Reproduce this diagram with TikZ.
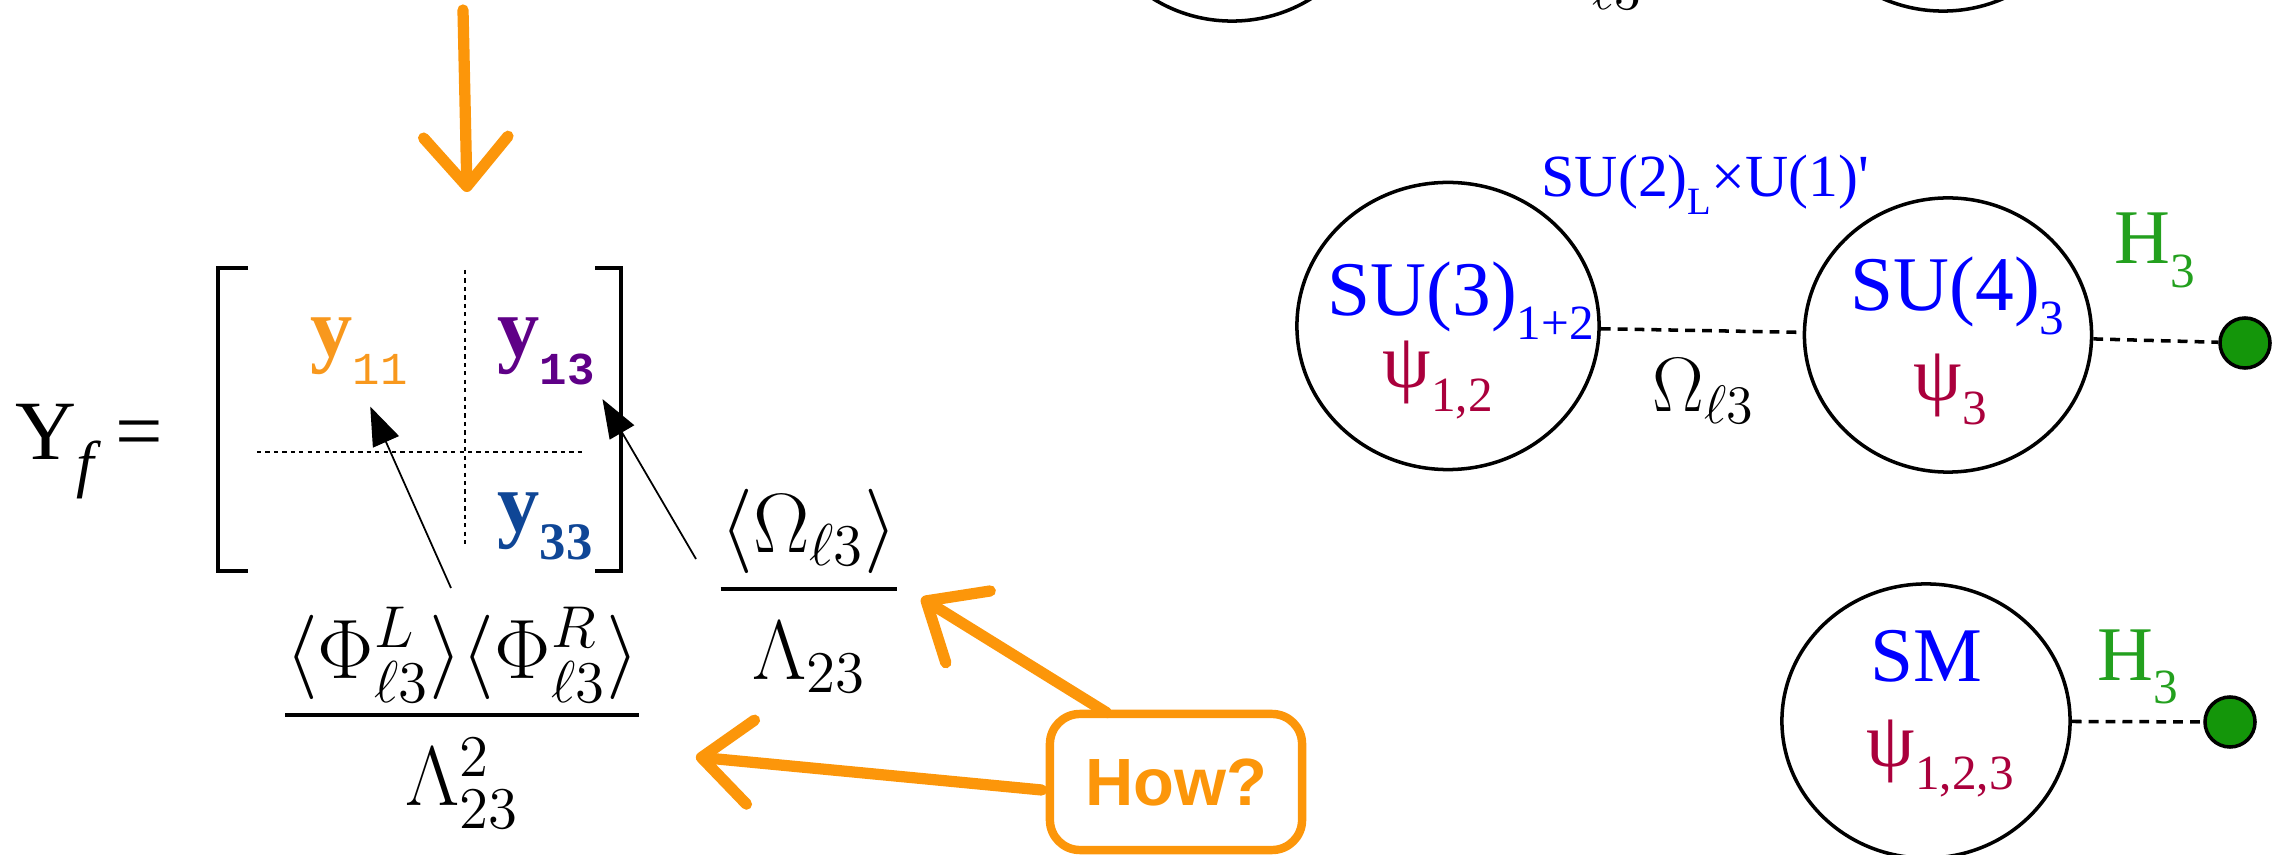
\RequirePackage{fix-cm}
\documentclass[tikz,border=0pt]{standalone}
\usepackage{amsmath}
\usepackage[no-math]{fontspec}
\setmainfont{Liberation Serif}
\setsansfont{Liberation Sans}
\setmonofont{Liberation Mono}
\usepackage{xcolor}
\usepackage{tikz}
\usetikzlibrary{shapes.geometric, arrows.meta, positioning, calc}
\definecolor{hand}{RGB}{252,150,10}
\definecolor{yorange}{RGB}{248,152,29}
\definecolor{ypurple}{RGB}{95,0,135}
\definecolor{yblue}{RGB}{15,70,150}
\definecolor{grpblue}{RGB}{0,0,255}
\definecolor{fieldred}{RGB}{170,0,60}
\definecolor{higgsgreen}{RGB}{35,160,30}
\definecolor{dotgreen}{RGB}{20,150,10}
\newcommand{\eqsize}{\fontsize{24}{28}\selectfont}
\newcommand{\grpsize}{\fontsize{22}{26}\selectfont}
\newcommand{\brksize}{\fontsize{17}{20}\selectfont}
\newcommand{\howsize}{\fontsize{19}{22}\selectfont}
\newcommand{\idx}[2][14]{\raisebox{-0.3em}{\fontsize{#1}{#1}\selectfont #2}}
\newcommand{\ysub}[2][15]{\raisebox{-0.33em}{\fontsize{#1}{#1}\selectfont #2}}
\tikzstyle{txt} = [inner sep=0pt, anchor=base west]
\tikzstyle{gaugegroup} = [ellipse, draw=black, line width=1pt, inner sep=0pt, minimum width=2.88cm, minimum height=2.74cm]
\tikzstyle{grplabel} = [txt, text=grpblue, font=\grpsize]
\tikzstyle{fieldlabel} = [txt, text=fieldred, font=\grpsize]
\tikzstyle{higgslabel} = [txt, text=higgsgreen, font=\grpsize]
\tikzstyle{higgsdot} = [circle, draw=black, line width=1pt, fill=dotgreen, minimum size=0.5cm, inner sep=0pt]
\tikzstyle{scalarline} = [dash pattern=on 2.8pt off 2pt, line width=1pt]
\tikzstyle{blockline} = [dash pattern=on 1.2pt off 1.2pt, line width=0.5pt]
\tikzstyle{bracket} = [line width=1.3pt]
\tikzstyle{yentry} = [txt, font=\eqsize]
\tikzstyle{fracnode} = [inner sep=0pt, anchor=base, font=\eqsize]
\tikzstyle{ptr} = [-{Triangle[length=11pt, width=8pt]}, line width=0.5pt]
\tikzstyle{brush} = [-{Straight Barb[length=14pt, width=24pt, round]}, draw=hand, line width=3.2pt, line cap=round, line join=round]
\tikzstyle{howbox} = [rectangle, rounded corners=0.3cm, draw=hand, line width=2.4pt, minimum width=2.52cm, minimum height=1.36cm, text=hand, font=\sffamily\bfseries\howsize]

\begin{document}
\begin{tikzpicture}[x=0.01cm, y=-0.01cm]
    \useasboundingbox (0,0) rectangle (2287,855);
    \clip (0,0) rectangle (2287,855);

    % Yukawa matrix
    \node[yentry] (yf) at (15,460) {Y\idx[18]{\textit{f}}\,=};
    \draw[bracket] (248,268) -- (218,268) -- (218,571) -- (248,571);
    \draw[bracket] (595,268) -- (621,268) -- (621,571) -- (595,571);
    \draw[blockline] (465,270) -- (465,547);
    \draw[blockline] (257,452) -- (585,452);
    \node[yentry, text=yorange] (y11) at (310,357) {\textbf{y}\ysub[13]{\ttfamily 11}};
    \node[yentry, text=ypurple] (y13) at (497,357) {\textbf{y}\ysub[13]{\ttfamily\bfseries 13}};
    \node[yentry, text=yblue] (y33) at (497,532) {\textbf{y}\ysub{\bfseries 33}};

    % Suppressions
    \node[fracnode] (phifrac) at (462,736) {$\dfrac{\langle\Phi^{L}_{\ell 3}\rangle\langle\Phi^{R}_{\ell 3}\rangle}{\rule{0pt}{0.93em}\Lambda^{2}_{23}}$};
    \node[fracnode] (omfrac) at (809,610) {$\dfrac{\langle\Omega_{\ell 3}\rangle}{\rule{0pt}{0.93em}\Lambda_{23}}$};
    \coordinate (phitail) at (451,588);
    \coordinate (omtail) at (696,559);
    \draw[ptr] (phitail) -- ([shift={(11,21)}]y11.south);
    \draw[ptr] (omtail) -- ([shift={(7,13)}]y13.south east);

    % Question
    \node[howbox] (how) at (1176,782) {How?};
    \coordinate (dstart) at (463,10);
    \coordinate (dend) at (467,192);
    \draw[brush] (dstart) -- (dend);
    \draw[brush] ([shift={(61,3)}]how.north west) -- ([shift={(19,7)}]omfrac.east);
    \draw[brush] ([shift={(-4,8)}]how.west) -- ([shift={(52,39)}]phifrac.east);

    % Row above (cut off)
    \node[gaugegroup] (topa) at (1232,-116) {};
    \node[gaugegroup] (topb) at (1943,-126) {};
    \node[txt, font=\grpsize] (omtop) at (1540,-2) {$\Omega_{\ell 3}$};

    % Two-site row
    \node[gaugegroup, minimum width=3.02cm, minimum height=2.87cm] (su3) at (1448,326) {};
    \node[gaugegroup, minimum width=2.87cm] (su4) at (1948,335) {};
    \node[higgsdot] (hdota) at (2245,343) {};
    \node[txt, text=grpblue, font=\brksize] (brk) at (1541,197) {SU(2)\idx[11]{L}×U(1)\textquotesingle};
    \node[grplabel] (su3lbl) at (1327,316) {SU(3)\idx{1+2}};
    \node[fieldlabel] (psia) at (1382,388) {ψ\idx{1,2}};
    \node[grplabel] (su4lbl) at (1850,311) {SU(4)\idx{3}};
    \node[fieldlabel] (psib) at (1913,401) {ψ\idx{3}};
    \node[txt, font=\grpsize] (omlbl) at (1652,412) {$\Omega_{\ell 3}$};
    \node[higgslabel] (ha) at (2114,264) {H\idx{3}};
    \draw[scalarline] (su3) -- (su4);
    \draw[scalarline] (su4) -- (hdota);

    % SM row
    \node[gaugegroup] (sm) at (1926,721) {};
    \node[higgsdot] (hdotb) at (2230,722) {};
    \node[grplabel] (smlbl) at (1870,682) {SM};
    \node[fieldlabel] (psic) at (1866,766) {ψ\idx{1,2,3}};
    \node[higgslabel] (hb) at (2097,680) {H\idx{3}};
    \draw[scalarline] (sm) -- (hdotb);
\end{tikzpicture}
\end{document}
